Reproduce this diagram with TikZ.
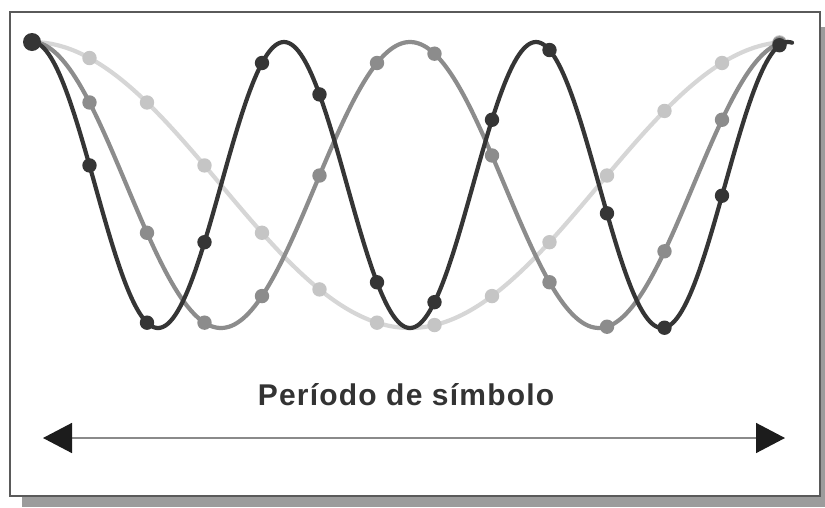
\documentclass[tikz,border=0pt]{standalone}
\usepackage{fontspec}
\usetikzlibrary{arrows.meta}
\newfontfamily\labfont{Liberation Sans}[LetterSpace=4]
\definecolor{shadowc}{HTML}{9C9C9C}
\definecolor{framec}{HTML}{5A5A5A}
\definecolor{darkc}{HTML}{353535}
\definecolor{midc}{HTML}{8C8C8C}
\definecolor{lightc}{HTML}{D6D6D6}
\definecolor{textc}{HTML}{333333}
\definecolor{axisc}{HTML}{8A8A8A}
\definecolor{tipc}{HTML}{1C1C1C}
\tikzset{
  wave/.style={line width=4.2pt, line join=round, line cap=round},
  dotmark/.style={radius=7.2pt},
  spanarrow/.style={axisc, line width=1.5pt,
    {Triangle[length=29pt,width=30pt,color=tipc]}-{Triangle[length=29pt,width=30pt,color=tipc]}}
}
\begin{document}
\begin{tikzpicture}[x=1pt,y=-1pt]
\useasboundingbox (0,0) rectangle (825,507);
% shadow and frame
\fill[shadowc] (22,27) rectangle (825,507);
\draw[framec, line width=1.5pt, fill=white] (10,12) rectangle (820,496);
% light curve (one period)
\draw[wave, lightc] plot[domain=32:788, samples=240] (\x, {185-143*cos(((\x-32)/756)*360)});
\foreach \k in {0,...,13} {
  \pgfmathsetmacro\xx{32+57.5*\k}
  \fill[lightc!92!black] (\xx, {185-143*cos(((\xx-32)/756)*360)}) circle[dotmark];
}
% medium curve (two periods)
\draw[wave, midc] plot[domain=32:788, samples=300] (\x, {185-143*cos(((\x-32)/756)*720)});
\foreach \k in {0,...,13} {
  \pgfmathsetmacro\xx{32+57.5*\k}
  \fill[midc] (\xx, {185-143*cos(((\xx-32)/756)*720)}) circle[dotmark];
}
% dark curve (three periods)
\draw[wave, darkc] plot[domain=32:792, samples=360] (\x, {185-143*cos(((\x-32)/756)*1080)});
\foreach \k in {0,...,13} {
  \pgfmathsetmacro\xx{32+57.5*\k}
  \fill[darkc] (\xx, {185-143*cos(((\xx-32)/756)*1080)}) circle[dotmark];
}
\fill[darkc] (32,42) circle[radius=9pt];
% label and double arrow
\node[text=textc, font=\labfont\bfseries\fontsize{30}{36}\selectfont] (lbl) at (406,395) {Período de símbolo};
\coordinate (aL) at (43,438);
\coordinate (aR) at (785,438);
\draw[spanarrow] (aL) -- (aR);
\end{tikzpicture}
\end{document}
